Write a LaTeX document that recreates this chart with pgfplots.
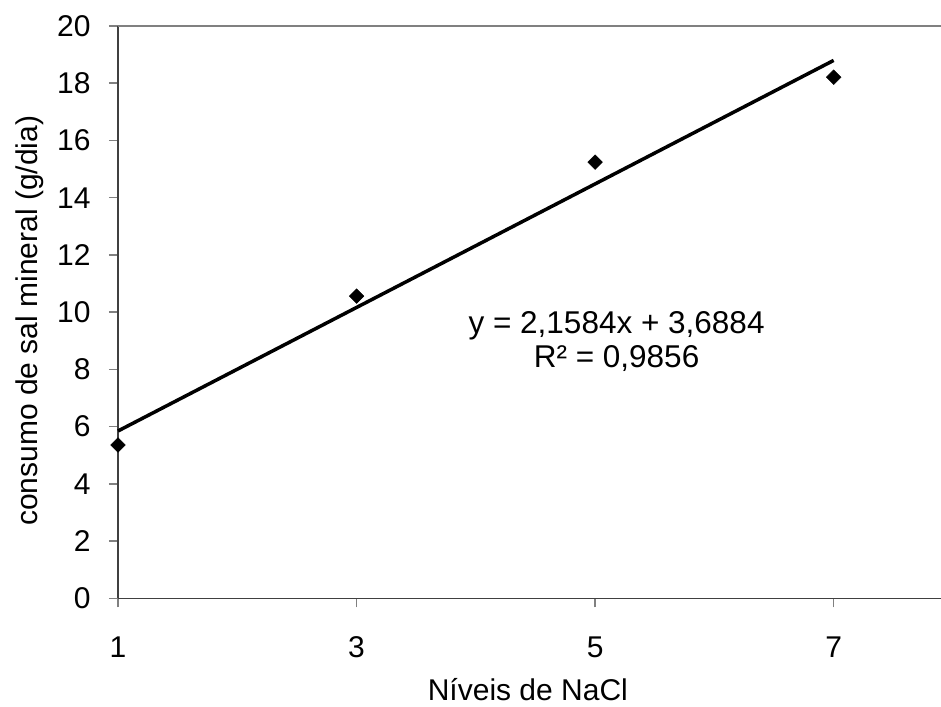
\documentclass[border=0pt]{standalone}
\usepackage{fontspec}
\setmainfont{Liberation Sans}
\usepackage{pgfplots}
\pgfplotsset{compat=1.18}
\definecolor{axgray}{RGB}{64,64,64}
\definecolor{tgray}{RGB}{128,128,128}
\begin{document}
\begin{tikzpicture}
\useasboundingbox (-118pt,-107.7pt) rectangle (823pt,598.3pt);
\begin{axis}[
  at={(0pt,0pt)}, anchor=south west,
  scale only axis, width=823pt, height=572.3pt,
  xmin=1, xmax=7.90, ymin=0, ymax=20,
  axis x line*=bottom, axis y line*=left,
  axis line style={axgray, line width=1.6pt},
  xtick={1,3,5,7}, ytick={0,2,...,20},
  tick style={tgray, line width=1.6pt},
  tick align=outside, major tick length=9pt,
  /pgf/number format/assume math mode=true,
  tick label style={font=\fontsize{30}{34}\selectfont},
  xticklabel style={yshift=-26pt},
  yticklabel style={xshift=-15pt},
  xlabel={Níveis de NaCl},
  ylabel={consumo de sal mineral (g/dia)},
  label style={font=\fontsize{30}{34}\selectfont},
  xlabel style={at={(axis description cs:0.498,-0.1602)}, anchor=center},
  ylabel style={at={(axis description cs:-0.1075,0.485)}, anchor=center},
  clip=false,
]
\draw[tgray, line width=1.6pt] (axis cs:1,20) -- (axis cs:7.90,20);
\addplot[black, line width=3.5pt, no marks] coordinates {(1,5.8468) (7,18.7972)};
\addplot[only marks, mark=square*, mark size=5.2pt, mark options={rotate=45, fill=black, draw=none}]
  coordinates {(1,5.36) (3,10.56) (5,15.24) (7,18.21)};
\node[align=center, font=\fontsize{31.5}{34}\selectfont] at (axis cs:5.18,8.96) {y = 2,1584x + 3,6884\\R² = 0,9856};
\end{axis}
\end{tikzpicture}
\end{document}
